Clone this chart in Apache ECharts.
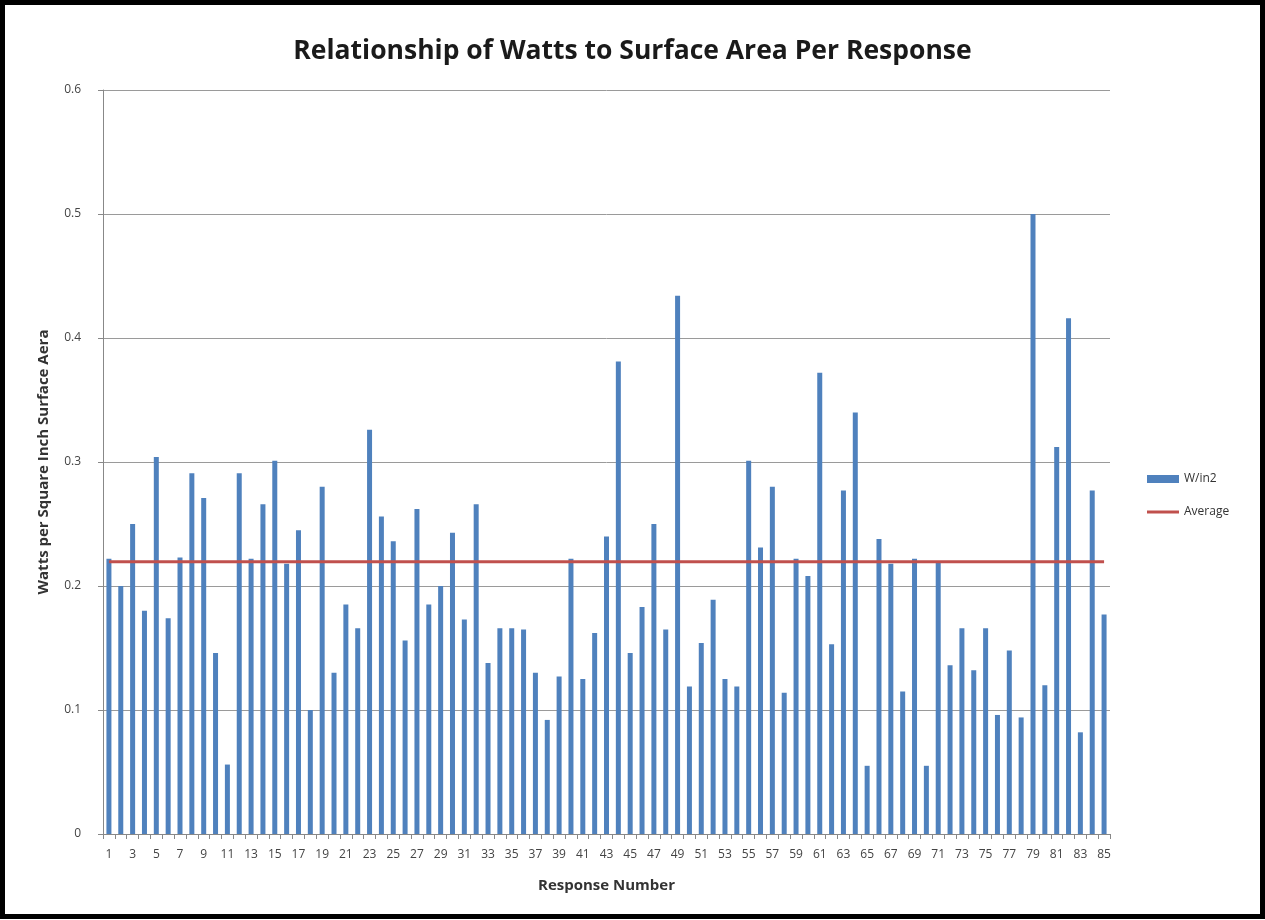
<!DOCTYPE html>
<html>
<head>
<meta charset="utf-8">
<script src="https://cdn.jsdelivr.net/npm/echarts@6/dist/echarts.min.js"></script>
<style>
html,body{margin:0;padding:0;background:#fff;}
#chart{width:1265px;height:920px;}
</style>
</head>
<body>
<div id="chart"></div>
<script>
const categories = ['1','2','3','4','5','6','7','8','9','10','11','12','13','14','15','16','17','18','19','20','21','22','23','24','25','26','27','28','29','30','31','32','33','34','35','36','37','38','39','40','41','42','43','44','45','46','47','48','49','50','51','52','53','54','55','56','57','58','59','60','61','62','63','64','65','66','67','68','69','70','71','72','73','74','75','76','77','78','79','80','81','82','83','84','85'];
const wattsPerSqIn = [
  0.222, 0.200, 0.250, 0.180, 0.304, 0.174, 0.223, 0.291, 0.271, 0.146,
  0.056, 0.291, 0.222, 0.266, 0.301, 0.218, 0.245, 0.100, 0.280, 0.130,
  0.185, 0.166, 0.326, 0.256, 0.236, 0.156, 0.262, 0.185, 0.200, 0.243,
  0.173, 0.266, 0.138, 0.166, 0.166, 0.165, 0.130, 0.092, 0.127, 0.222,
  0.125, 0.162, 0.240, 0.381, 0.146, 0.183, 0.250, 0.165, 0.434, 0.119,
  0.154, 0.189, 0.125, 0.119, 0.301, 0.231, 0.280, 0.114, 0.222, 0.208,
  0.372, 0.153, 0.277, 0.340, 0.055, 0.238, 0.218, 0.115, 0.222, 0.055,
  0.219, 0.136, 0.166, 0.132, 0.166, 0.096, 0.148, 0.094, 0.500, 0.120,
  0.312, 0.416, 0.082, 0.277, 0.177
];
const averageValue = 0.2195;
const averageEnds = [['1', averageValue], ['85', averageValue]];
const yTicks = ['0', '0.1', '0.2', '0.3', '0.4', '0.5', '0.6'];

const chart = echarts.init(document.getElementById('chart'));
const font = '"Open Sans", Lato, "Liberation Sans", sans-serif';
chart.setOption({
  backgroundColor: '#ffffff',
  animation: false,
  textStyle: { fontFamily: font },
  title: {
    text: 'Relationship of Watts to Surface Area Per Response',
    left: 'center',
    top: 33,
    textStyle: { fontFamily: font, fontSize: 26.5, fontWeight: 'bold', color: '#1a1a1a' }
  },
  graphic: [{
    type: 'rect',
    shape: { x: 2.5, y: 2.5, width: 1260, height: 914 },
    style: { fill: 'none', stroke: '#000', lineWidth: 5 },
    silent: true
  }],
  legend: {
    orient: 'vertical',
    left: 1142,
    top: 468,
    itemGap: 21,
    itemWidth: 32,
    itemHeight: 8,
    textStyle: { fontFamily: font, fontSize: 12, color: '#333' },
    data: [
      { name: 'W/in2', icon: 'rect' },
      { name: 'Average', icon: 'path://M0,0H32V3H0Z' }
    ]
  },
  grid: { left: 103, right: 155, top: 90, bottom: 86, containLabel: false },
  xAxis: {
    type: 'category',
    data: categories,
    name: 'Response Number',
    nameLocation: 'middle',
    nameGap: 44,
    nameTextStyle: { fontFamily: font, fontSize: 15, fontWeight: 'bold', color: '#333' },
    axisLine: { lineStyle: { color: '#888', width: 1 } },
    axisTick: { show: true, interval: 0, length: 5, lineStyle: { color: '#888' } },
    axisLabel: { interval: 1, fontSize: 12, color: '#444', margin: 15 }
  },
  yAxis: {
    type: 'value',
    min: 0,
    max: 0.6,
    interval: 0.1,
    name: 'Watts per Square Inch Surface Aera',
    nameLocation: 'middle',
    nameGap: 52,
    nameRotate: 90,
    nameTextStyle: { fontFamily: font, fontSize: 15, fontWeight: 'bold', color: '#333' },
    axisLine: { show: true, lineStyle: { color: '#888', width: 1 } },
    axisTick: { show: true, length: 5, lineStyle: { color: '#888' } },
    axisLabel: {
      fontSize: 12, color: '#444', margin: 22,
      formatter: function (v) { return yTicks[Math.round(v * 10)]; }
    },
    splitLine: { show: true, lineStyle: { color: '#9a9a9a', width: 1 } }
  },
  series: [
    {
      name: 'W/in2',
      type: 'bar',
      data: wattsPerSqIn,
      barWidth: 5,
      itemStyle: { color: '#4F81BD' }
    },
    {
      name: 'Average',
      type: 'line',
      data: averageEnds,
      symbol: 'none',
      lineStyle: { color: '#C0504D', width: 3 },
      itemStyle: { color: '#C0504D' },
      z: 5
    }
  ]
});
</script>
</body>
</html>
